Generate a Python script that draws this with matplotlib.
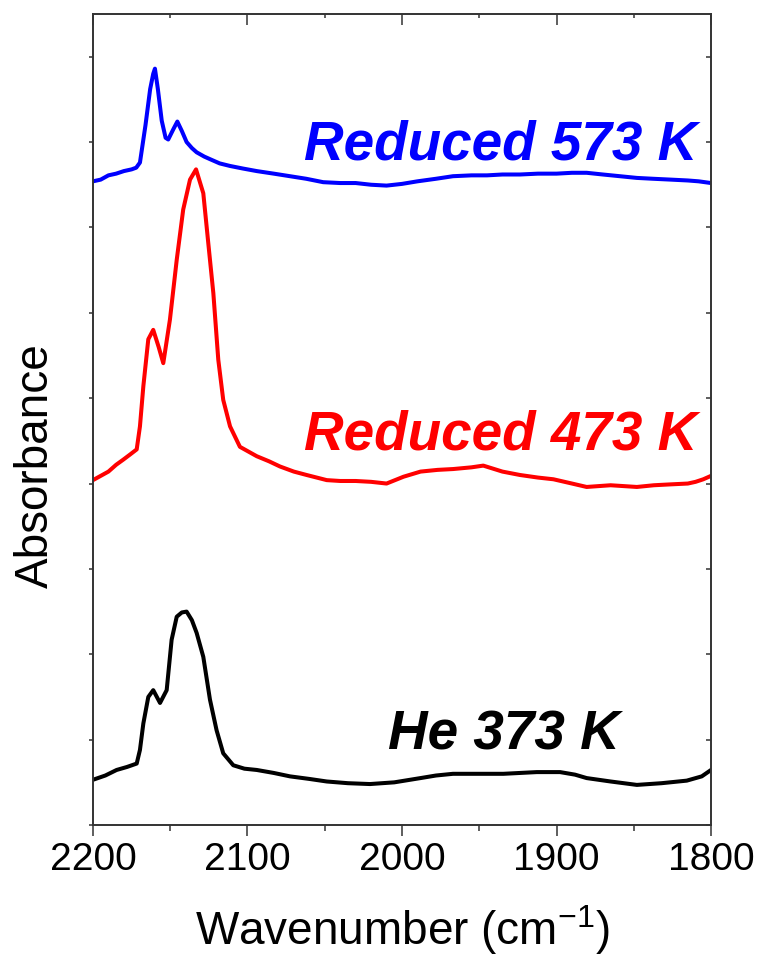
import matplotlib
matplotlib.use("Agg")
import matplotlib.pyplot as plt
import numpy as np

plt.rcParams["font.family"] = ["Liberation Sans", "DejaVu Sans"]
plt.rcParams["mathtext.fontset"] = "custom"
plt.rcParams["mathtext.rm"] = "Liberation Sans"
plt.rcParams["mathtext.it"] = "Liberation Sans:italic"

# IR spectra (wavenumber in cm-1, absorbance with vertical offsets)
w_573 = [2200, 2195, 2190, 2185, 2180, 2175, 2172, 2169.6, 2166, 2163, 2161, 2159.9,
         2158, 2155.5, 2153, 2151.3, 2148, 2145.4, 2142.5, 2139.4, 2136, 2132.9,
         2128, 2124.3, 2118, 2111.3, 2103, 2094, 2083, 2072.5, 2062, 2051, 2040,
         2030, 2020, 2010, 2000, 1990, 1978, 1967, 1955, 1945, 1935, 1923.6, 1912,
         1900, 1890, 1880.5, 1870, 1859, 1848, 1837.5, 1826, 1815, 1808, 1800]
a_573 = [7.54, 7.56, 7.61, 7.63, 7.66, 7.68, 7.70, 7.76, 8.20, 8.62, 8.80, 8.86,
         8.62, 8.25, 8.05, 8.03, 8.15, 8.24, 8.13, 8.00, 7.93, 7.88,
         7.83, 7.80, 7.75, 7.72, 7.69, 7.66, 7.63, 7.60, 7.57, 7.53, 7.52,
         7.52, 7.50, 7.49, 7.51, 7.54, 7.57, 7.60, 7.61, 7.61, 7.62, 7.62, 7.63,
         7.63, 7.64, 7.64, 7.62, 7.60, 7.58, 7.57, 7.56, 7.55, 7.54, 7.52]

w_473 = [2200, 2195, 2190, 2185, 2180.4, 2176, 2171.7, 2169.6, 2167.4, 2164.2, 2161,
         2157.5, 2154.5, 2150.2, 2145.8, 2141.6, 2137.2, 2133.3, 2128.6, 2125.4,
         2122.1, 2118.9, 2115.7, 2111.3, 2104.9, 2094, 2086, 2079, 2070, 2061.7,
         2048.7, 2040, 2030, 2020, 2010, 1999, 1988, 1977, 1966.8, 1955, 1947.4,
         1935, 1923.6, 1912, 1902, 1890, 1880.5, 1865, 1848, 1837, 1826.5, 1815,
         1810, 1805, 1800]
a_473 = [4.04, 4.09, 4.14, 4.22, 4.28, 4.34, 4.40, 4.67, 5.14, 5.69, 5.80,
         5.60, 5.41, 5.92, 6.62, 7.21, 7.56, 7.68, 7.40, 6.82,
         6.23, 5.45, 4.98, 4.67, 4.43, 4.32, 4.26, 4.20, 4.14, 4.10,
         4.04, 4.03, 4.03, 4.02, 4.00, 4.08, 4.14, 4.16, 4.17, 4.19, 4.21,
         4.14, 4.10, 4.07, 4.05, 4.00, 3.96, 3.98, 3.96, 3.98, 3.99, 4.00,
         4.02, 4.05, 4.09]

w_373 = [2200, 2192, 2184.7, 2178, 2171.7, 2169.6, 2167.4, 2164.2, 2161, 2156.6,
         2152.3, 2149.1, 2145.8, 2142.5, 2139.4, 2136, 2132.9, 2128.6, 2124.3, 2120,
         2115.7, 2109.2, 2102, 2094, 2083, 2072.5, 2060, 2048.7, 2035, 2020.7,
         2005, 1988, 1978, 1967, 1950, 1934.4, 1912.8, 1897.7, 1888, 1880.5, 1865,
         1848, 1832, 1815.7, 1806, 1800]
a_373 = [0.53, 0.58, 0.645, 0.68, 0.72, 0.88, 1.19, 1.50, 1.58, 1.43,
         1.58, 2.17, 2.44, 2.49, 2.50, 2.40, 2.25, 1.97, 1.47, 1.11,
         0.84, 0.70, 0.66, 0.645, 0.61, 0.57, 0.54, 0.51, 0.49, 0.48,
         0.50, 0.55, 0.58, 0.60, 0.60, 0.60, 0.62, 0.62, 0.59, 0.55, 0.51,
         0.47, 0.49, 0.52, 0.57, 0.645]

labels = ["Reduced 573 K", "Reduced 473 K", "He 373 K"]
colors = ["#0000ff", "#ff0000", "#000000"]
label_x = [1809, 1809, 1859]
label_y = [7.80, 4.40, 0.88]

fig = plt.figure(figsize=(7.59, 9.59), dpi=100)
ax = fig.add_axes([0.1225, 0.1397, 0.8143, 0.8457])

for w, a, c in zip([w_573, w_473, w_373], [a_573, a_473, a_373], colors):
    ax.plot(w, a, color=c, lw=2.9, solid_joinstyle="round")

for t, x, y, c in zip(labels, label_x, label_y, colors):
    ax.text(x, y, t, color=c, fontsize=39.5, fontweight="bold", fontstyle="italic",
            ha="right", va="baseline")

ax.set_xlim(2200, 1800)
ax.set_ylim(0, 9.5)
ax.set_xticks([2200, 2100, 2000, 1900, 1800])
ax.set_xticks([2150, 2050, 1950, 1850], minor=True)
ax.set_yticks(np.arange(0, 10, 1))
ax.set_yticklabels([])

spine_c = "#333333"
for s in ax.spines.values():
    s.set_color(spine_c)
    s.set_linewidth(1.4)

ax.tick_params(axis="x", which="major", direction="out", length=8, width=1.1,
               color=spine_c, labelsize=28, pad=4, top=False)
ax.tick_params(axis="x", which="minor", direction="out", length=4, width=1.1,
               color=spine_c, top=False)
ax.tick_params(axis="y", which="major", direction="out", length=3, width=1.1,
               color=spine_c, right=False)

top = ax.secondary_xaxis("top")
top.set_xticks([2200, 2100, 2000, 1900, 1800])
top.set_xticks([2150, 2050, 1950, 1850], minor=True)
top.tick_params(which="major", direction="in", length=8, width=1.1, color=spine_c,
                labeltop=False)
top.tick_params(which="minor", direction="in", length=3, width=1.1, color=spine_c)
top.spines["top"].set_visible(False)

right = ax.secondary_yaxis("right")
right.set_yticks(np.arange(0, 10, 1))
right.tick_params(direction="in", length=3.5, width=1.1, color=spine_c,
                  labelright=False)
right.spines["right"].set_visible(False)

ax.set_xlabel("Wavenumber (cm$^{-1}$)", fontsize=33)
ax.xaxis.set_label_coords(0.5, -0.096)
ax.set_ylabel("Absorbance", fontsize=33)
ax.yaxis.set_label_coords(-0.057, 0.443)

fig.savefig("out.png", dpi=100)
